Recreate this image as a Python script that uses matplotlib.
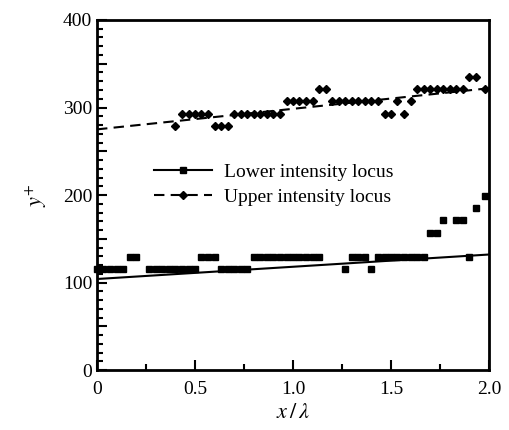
import matplotlib
matplotlib.use("Agg")
import matplotlib.pyplot as plt
from matplotlib.lines import Line2D
from matplotlib.ticker import MultipleLocator, FuncFormatter

# lower intensity locus (squares)
lower_x = [0.0, 0.033, 0.067, 0.1, 0.133, 0.167, 0.2,
           0.267, 0.3, 0.333, 0.367, 0.4, 0.433, 0.467, 0.5,
           0.533, 0.567, 0.6,
           0.633, 0.667, 0.7, 0.733, 0.767,
           0.8, 0.833, 0.867, 0.9, 0.933, 0.967, 1.0, 1.033, 1.067, 1.1, 1.133,
           1.267, 1.3, 1.333, 1.367, 1.4,
           1.433, 1.467, 1.5, 1.533, 1.567, 1.6, 1.633, 1.667,
           1.7, 1.733, 1.767, 1.833, 1.867, 1.9, 1.933, 1.98]
lower_y = [115, 115, 115, 115, 115, 129, 129,
           115, 115, 115, 115, 115, 115, 115, 115,
           129, 129, 129,
           115, 115, 115, 115, 115,
           129, 129, 129, 129, 129, 129, 129, 129, 129, 129, 129,
           115, 129, 129, 129, 115,
           129, 129, 129, 129, 129, 129, 129, 129,
           157, 157, 171, 171, 171, 129, 185, 199]

# upper intensity locus (diamonds)
upper_x = [0.4, 0.433, 0.467, 0.5, 0.533, 0.567,
           0.6, 0.633, 0.667,
           0.7, 0.733, 0.767, 0.8, 0.833, 0.867, 0.9, 0.933,
           0.967, 1.0, 1.033, 1.067, 1.1, 1.133, 1.167,
           1.2, 1.233, 1.267, 1.3, 1.333, 1.367, 1.4, 1.433,
           1.467, 1.5, 1.533, 1.567, 1.6,
           1.633, 1.667, 1.7, 1.733, 1.767, 1.8, 1.833, 1.867,
           1.9, 1.933, 1.98]
upper_y = [279, 293, 293, 293, 293, 293,
           279, 279, 279,
           293, 293, 293, 293, 293, 293, 293, 293,
           307, 307, 307, 307, 307, 321, 321,
           307, 307, 307, 307, 307, 307, 307, 307,
           293, 293, 307, 293, 307,
           321, 321, 321, 321, 321, 321, 321, 321,
           335, 335, 321]

# linear fits
fit_x = [0.0, 2.0]
lower_fit = [104, 132]
upper_fit = [275, 322]

plt.rcParams["font.family"] = ["Liberation Serif", "DejaVu Serif"]
plt.rcParams["mathtext.fontset"] = "stix"

fig = plt.figure(figsize=(5.09, 4.30), dpi=100)
ax = fig.add_axes([0.1906, 0.1395, 0.7701, 0.814])

ax.plot(fit_x, lower_fit, color="black", lw=1.5)
ax.plot(fit_x, upper_fit, color="black", lw=1.5, dashes=(5, 3))
ax.plot(lower_x, lower_y, ls="none", marker="s", ms=4.9, color="black", clip_on=False)
ax.plot(upper_x, upper_y, ls="none", marker="D", ms=3.9, color="black", clip_on=False)

ax.set_xlim(0, 2.0)
ax.set_ylim(0, 400)

ax.xaxis.set_major_locator(MultipleLocator(0.5))
ax.xaxis.set_major_formatter(FuncFormatter(lambda v, p: "0" if abs(v) < 1e-9 else f"{v:.1f}"))
ax.xaxis.set_minor_locator(MultipleLocator(0.25))
ax.yaxis.set_major_locator(MultipleLocator(50))
ax.yaxis.set_major_formatter(FuncFormatter(lambda v, p: f"{int(round(v))}" if round(v) % 100 == 0 else ""))
ax.yaxis.set_minor_locator(MultipleLocator(10))
ax.tick_params(which="both", direction="in", top=False, right=False, labelsize=14, width=1.5)
ax.tick_params(which="major", length=7)
ax.tick_params(which="minor", length=4)
ax.tick_params(axis="x", pad=8)

for s in ax.spines.values():
    s.set_linewidth(2)

ax.set_xlabel(r"$x\,/\,\lambda$", fontsize=16)
ax.set_ylabel(r"$y^{+}$", fontsize=16, labelpad=10)

handles = [
    Line2D([], [], color="black", lw=1.5, marker="s", ms=4.9),
    Line2D([], [], color="black", lw=1.5, dashes=(5, 3), marker="D", ms=3.9),
]
ax.legend(handles, ["Lower intensity locus", "Upper intensity locus"],
          loc="upper left", bbox_to_anchor=(0.1, 0.64), frameon=False,
          fontsize=14, numpoints=1, handlelength=3.0, handletextpad=0.6,
          labelspacing=0.35)

fig.savefig("out.png", dpi=100)
